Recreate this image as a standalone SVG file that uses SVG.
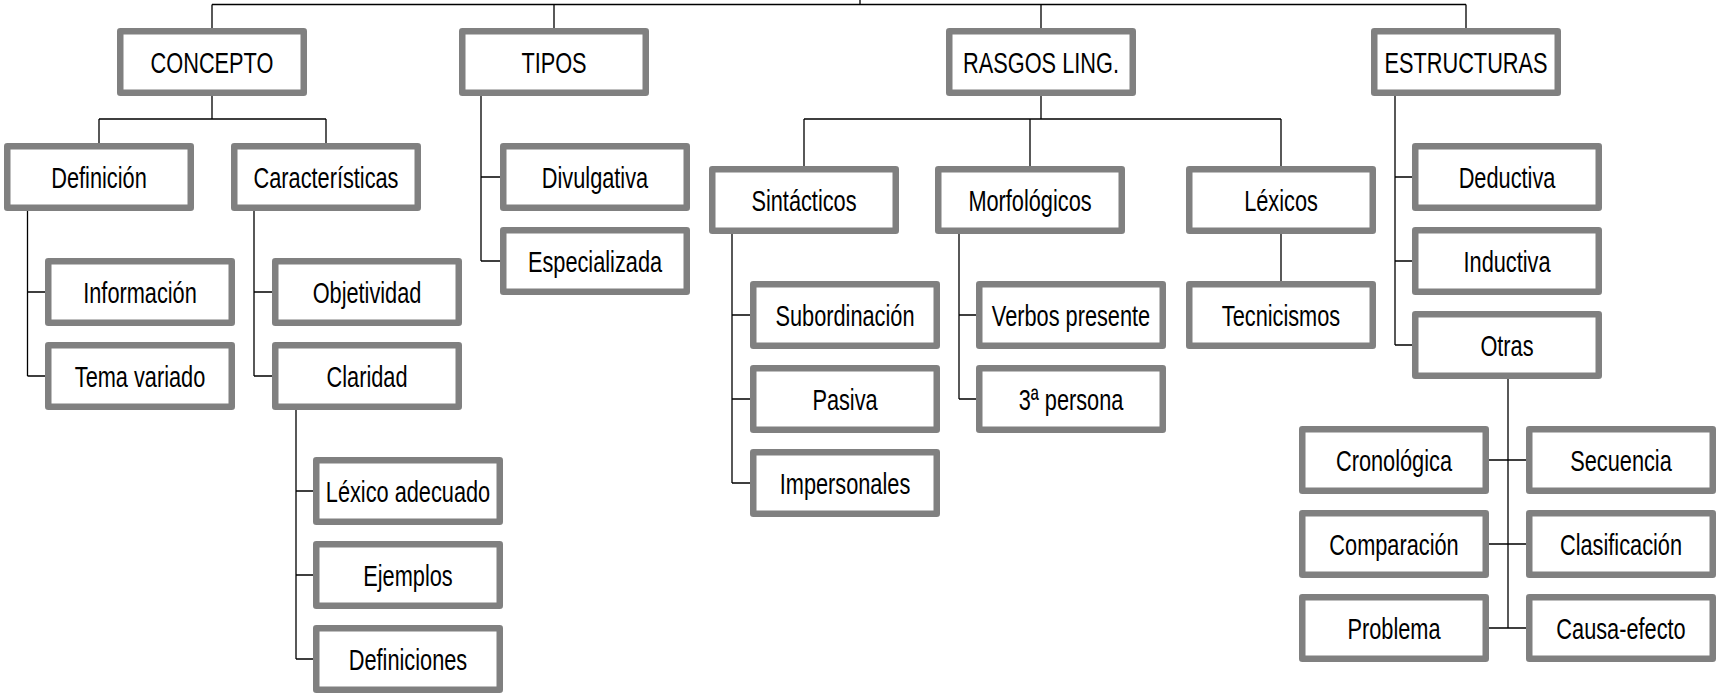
<svg xmlns="http://www.w3.org/2000/svg" width="1725" height="695" viewBox="0 0 1725 695">
<style>
.b rect{fill:#fff;stroke:#808080;stroke-width:6.5;stroke-linejoin:round}
.b text{font-family:"Liberation Sans",Arial,sans-serif;font-size:30px;fill:#000;text-anchor:middle}
.c path{fill:none;stroke:#000;stroke-width:1.3}
</style>
<rect width="1725" height="695" fill="#fff"/>
<g class="c" id="connectors">
<path d="M860,0V4.5M212,4.5H1466M212,4.5V28M554,4.5V28M1041,4.5V28M1466,4.5V28"/>
<path d="M212,96V119M99,119H326M99,119V143M326,119V143"/>
<path d="M27.5,211V376M27.5,292H45M27.5,376H45"/>
<path d="M254,211V376M254,292H272M254,376H272"/>
<path d="M296,410V659M296,491H313M296,575H313M296,659H313"/>
<path d="M481,96V261M481,177H500M481,261H500"/>
<path d="M1041,96V119M804,119H1281M804,119V166M1030,119V166M1281,119V166"/>
<path d="M732,234V483M732,315H750M732,399H750M732,483H750"/>
<path d="M959,234V399M959,315H976M959,399H976"/>
<path d="M1281,234V282"/>
<path d="M1395,96V345M1395,177H1412M1395,261H1412M1395,345H1412"/>
<path d="M1508,379V628M1489,460H1526M1489,544H1526M1489,628H1526"/>
</g>
<g class="b" id="n-concepto"><rect x="120.25" y="31.25" width="183.5" height="61.5"/><text transform="translate(212,62) scale(0.725,1)" y="10.7">CONCEPTO</text></g>
<g class="b" id="n-tipos"><rect x="462.25" y="31.25" width="183.5" height="61.5"/><text transform="translate(554,62) scale(0.725,1)" y="10.7">TIPOS</text></g>
<g class="b" id="n-rasgos"><rect x="949.25" y="31.25" width="183.5" height="61.5"/><text transform="translate(1041,62) scale(0.725,1)" y="10.7">RASGOS LING.</text></g>
<g class="b" id="n-estructuras"><rect x="1374.25" y="31.25" width="183.5" height="61.5"/><text transform="translate(1466,62) scale(0.725,1)" y="10.7">ESTRUCTURAS</text></g>
<g class="b" id="n-definicion"><rect x="7.25" y="146.25" width="183.5" height="61.5"/><text transform="translate(99,177) scale(0.725,1)" y="10.7">Definición</text></g>
<g class="b" id="n-caracteristicas"><rect x="234.25" y="146.25" width="183.5" height="61.5"/><text transform="translate(326,177) scale(0.725,1)" y="10.7">Características</text></g>
<g class="b" id="n-informacion"><rect x="48.25" y="261.25" width="183.5" height="61.5"/><text transform="translate(140,292) scale(0.725,1)" y="10.7">Información</text></g>
<g class="b" id="n-tema"><rect x="48.25" y="345.25" width="183.5" height="61.5"/><text transform="translate(140,376) scale(0.725,1)" y="10.7">Tema variado</text></g>
<g class="b" id="n-objetividad"><rect x="275.25" y="261.25" width="183.5" height="61.5"/><text transform="translate(367,292) scale(0.725,1)" y="10.7">Objetividad</text></g>
<g class="b" id="n-claridad"><rect x="275.25" y="345.25" width="183.5" height="61.5"/><text transform="translate(367,376) scale(0.725,1)" y="10.7">Claridad</text></g>
<g class="b" id="n-lexico-adecuado"><rect x="316.25" y="460.25" width="183.5" height="61.5"/><text transform="translate(408,491) scale(0.725,1)" y="10.7">Léxico adecuado</text></g>
<g class="b" id="n-ejemplos"><rect x="316.25" y="544.25" width="183.5" height="61.5"/><text transform="translate(408,575) scale(0.725,1)" y="10.7">Ejemplos</text></g>
<g class="b" id="n-definiciones"><rect x="316.25" y="628.25" width="183.5" height="61.5"/><text transform="translate(408,659) scale(0.725,1)" y="10.7">Definiciones</text></g>
<g class="b" id="n-divulgativa"><rect x="503.25" y="146.25" width="183.5" height="61.5"/><text transform="translate(595,177) scale(0.725,1)" y="10.7">Divulgativa</text></g>
<g class="b" id="n-especializada"><rect x="503.25" y="230.25" width="183.5" height="61.5"/><text transform="translate(595,261) scale(0.725,1)" y="10.7">Especializada</text></g>
<g class="b" id="n-sintacticos"><rect x="712.25" y="169.25" width="183.5" height="61.5"/><text transform="translate(804,200) scale(0.725,1)" y="10.7">Sintácticos</text></g>
<g class="b" id="n-morfologicos"><rect x="938.25" y="169.25" width="183.5" height="61.5"/><text transform="translate(1030,200) scale(0.725,1)" y="10.7">Morfológicos</text></g>
<g class="b" id="n-lexicos"><rect x="1189.25" y="169.25" width="183.5" height="61.5"/><text transform="translate(1281,200) scale(0.725,1)" y="10.7">Léxicos</text></g>
<g class="b" id="n-subordinacion"><rect x="753.25" y="284.25" width="183.5" height="61.5"/><text transform="translate(845,315) scale(0.725,1)" y="10.7">Subordinación</text></g>
<g class="b" id="n-pasiva"><rect x="753.25" y="368.25" width="183.5" height="61.5"/><text transform="translate(845,399) scale(0.725,1)" y="10.7">Pasiva</text></g>
<g class="b" id="n-impersonales"><rect x="753.25" y="452.25" width="183.5" height="61.5"/><text transform="translate(845,483) scale(0.725,1)" y="10.7">Impersonales</text></g>
<g class="b" id="n-verbos"><rect x="979.25" y="284.25" width="183.5" height="61.5"/><text transform="translate(1071,315) scale(0.725,1)" y="10.7">Verbos presente</text></g>
<g class="b" id="n-persona"><rect x="979.25" y="368.25" width="183.5" height="61.5"/><text transform="translate(1071,399) scale(0.725,1)" y="10.7">3ª persona</text></g>
<g class="b" id="n-tecnicismos"><rect x="1189.25" y="284.25" width="183.5" height="61.5"/><text transform="translate(1281,315) scale(0.725,1)" y="10.7">Tecnicismos</text></g>
<g class="b" id="n-deductiva"><rect x="1415.25" y="146.25" width="183.5" height="61.5"/><text transform="translate(1507,177) scale(0.725,1)" y="10.7">Deductiva</text></g>
<g class="b" id="n-inductiva"><rect x="1415.25" y="230.25" width="183.5" height="61.5"/><text transform="translate(1507,261) scale(0.725,1)" y="10.7">Inductiva</text></g>
<g class="b" id="n-otras"><rect x="1415.25" y="314.25" width="183.5" height="61.5"/><text transform="translate(1507,345) scale(0.725,1)" y="10.7">Otras</text></g>
<g class="b" id="n-cronologica"><rect x="1302.25" y="429.25" width="183.5" height="61.5"/><text transform="translate(1394,460) scale(0.725,1)" y="10.7">Cronológica</text></g>
<g class="b" id="n-secuencia"><rect x="1529.25" y="429.25" width="183.5" height="61.5"/><text transform="translate(1621,460) scale(0.725,1)" y="10.7">Secuencia</text></g>
<g class="b" id="n-comparacion"><rect x="1302.25" y="513.25" width="183.5" height="61.5"/><text transform="translate(1394,544) scale(0.725,1)" y="10.7">Comparación</text></g>
<g class="b" id="n-clasificacion"><rect x="1529.25" y="513.25" width="183.5" height="61.5"/><text transform="translate(1621,544) scale(0.725,1)" y="10.7">Clasificación</text></g>
<g class="b" id="n-problema"><rect x="1302.25" y="597.25" width="183.5" height="61.5"/><text transform="translate(1394,628) scale(0.725,1)" y="10.7">Problema</text></g>
<g class="b" id="n-causa"><rect x="1529.25" y="597.25" width="183.5" height="61.5"/><text transform="translate(1621,628) scale(0.725,1)" y="10.7">Causa-efecto</text></g>
</svg>
